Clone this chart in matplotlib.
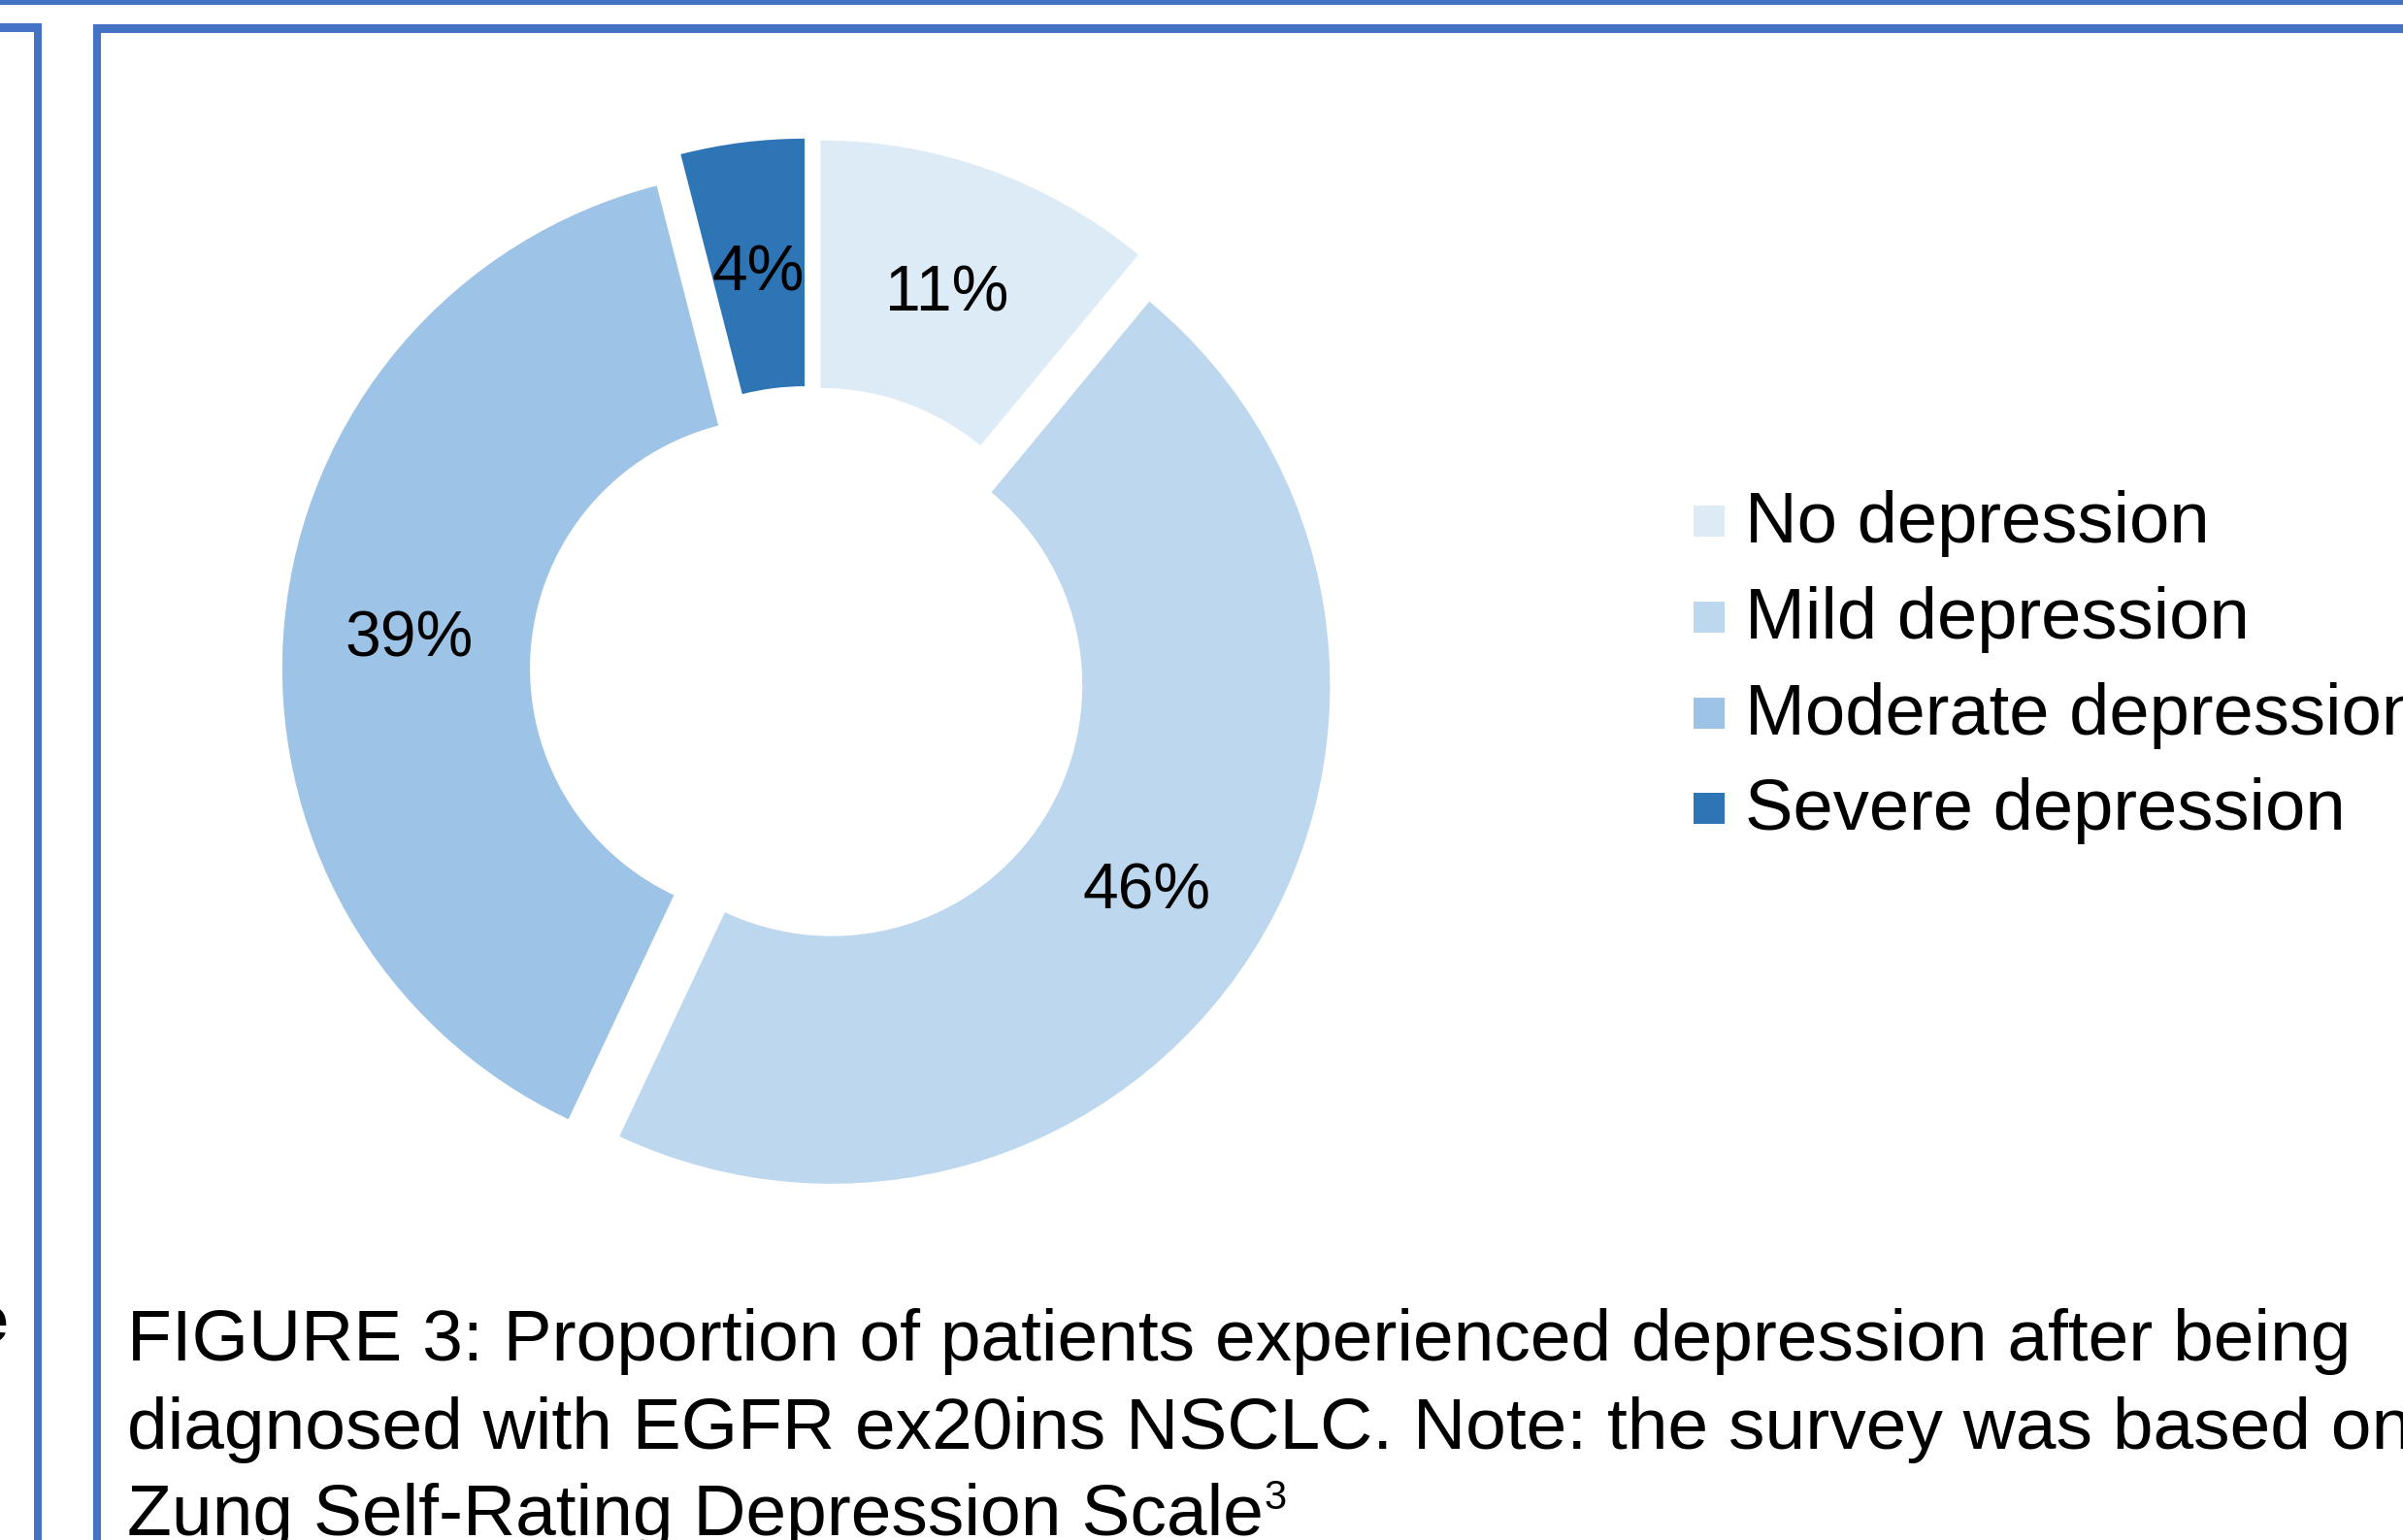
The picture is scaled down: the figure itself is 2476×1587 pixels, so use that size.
import matplotlib
matplotlib.use("Agg")
from matplotlib import pyplot as plt
from matplotlib.patches import Rectangle

plt.rcParams['font.family'] = ['Liberation Sans', 'DejaVu Sans']

W, H = 2476, 1587
DPI = 100

categories = ['No depression', 'Mild depression', 'Moderate depression', 'Severe depression']
shares = [11, 46, 39, 4]
colors = ['#DDEBF7', '#BDD7EE', '#9DC3E6', '#2E75B6']
caption_lines = [
    "FIGURE 3: Proportion of patients experienced depression after being",
    "diagnosed with EGFR ex20ins NSCLC. Note: the survey was based on",
    "Zung Self-Rating Depression Scale",
]
caption_ref = "3"
border_color = '#4472C4'

# slice separation (fraction of outer radius)
explode = [0.069, 0.054, 0.057, 0.069]


def fx(px):
    return px / W


def fy(py):
    # py measured from the top of the image
    return 1 - py / H


def px_rect(fig, x0, y0, x1, y1, color):
    fig.add_artist(Rectangle((fx(x0), fy(y1)), fx(x1) - fx(x0), fy(y0) - fy(y1),
                             transform=fig.transFigure, facecolor=color,
                             edgecolor='none', zorder=5))


fig = plt.figure(figsize=(W / DPI, H / DPI), dpi=DPI)
fig.patch.set_facecolor('white')

# poster frames
px_rect(fig, 0, 0, W, 4.5, border_color)
px_rect(fig, 0, 24, 43, 33, border_color)
px_rect(fig, 34.5, 24, 43, H, border_color)
px_rect(fig, 95.5, 25, W, 33.5, border_color)
px_rect(fig, 95.5, 25, 104, H, border_color)

# fragment of neighbouring panel text
fig.text(fx(8), fy(1383), 'e', ha='right', va='baseline', fontsize=50,
         fontweight='bold', color='black')

# donut: center (833.5, 691.5) px, outer radius 513.5 px
cx, cy, r = 833.5, 691.5, 513.5
half = 600
ax = fig.add_axes([fx(cx - half), fy(cy + half), 2 * half / W, 2 * half / H])
lim = half / r
wedges, texts, autotexts = ax.pie(
    shares, colors=colors, startangle=90, counterclock=False,
    explode=explode, radius=1,
    wedgeprops=dict(width=0.497, edgecolor='none'),
    autopct=lambda p: f'{p:.0f}%', pctdistance=0.748,
    textprops=dict(fontsize=47.5, color='black'))
for t in autotexts:
    t.set_va('center_baseline')
ax.set_xlim(-lim, lim)
ax.set_ylim(-lim, lim)
ax.set_aspect('auto')
ax.axis('off')

# legend
marker_x0, marker_size = 1745, 32
baselines = [559, 658, 757, 855]
for label, color, base in zip(categories, colors, baselines):
    px_rect(fig, marker_x0, base - 38, marker_x0 + marker_size, base - 6, color)
    fig.text(fx(1798), fy(base), label, ha='left', va='baseline',
             fontsize=53.5, color='black')

# caption
caption_baselines = [1402, 1493, 1582]
caption_texts = []
for line, base in zip(caption_lines, caption_baselines):
    caption_texts.append(fig.text(fx(131), fy(base), line, ha='left', va='baseline',
                                  fontsize=54, color='black'))

# superscript reference after the last caption line
renderer = fig.canvas.get_renderer()
last_bb = caption_texts[-1].get_window_extent(renderer)
fig.text(fx(last_bb.x1 + 1), fy(1555), caption_ref, ha='left', va='baseline',
         fontsize=30, color='black')

fig.savefig('out.png', dpi=DPI, facecolor='white')
plt.close(fig)
